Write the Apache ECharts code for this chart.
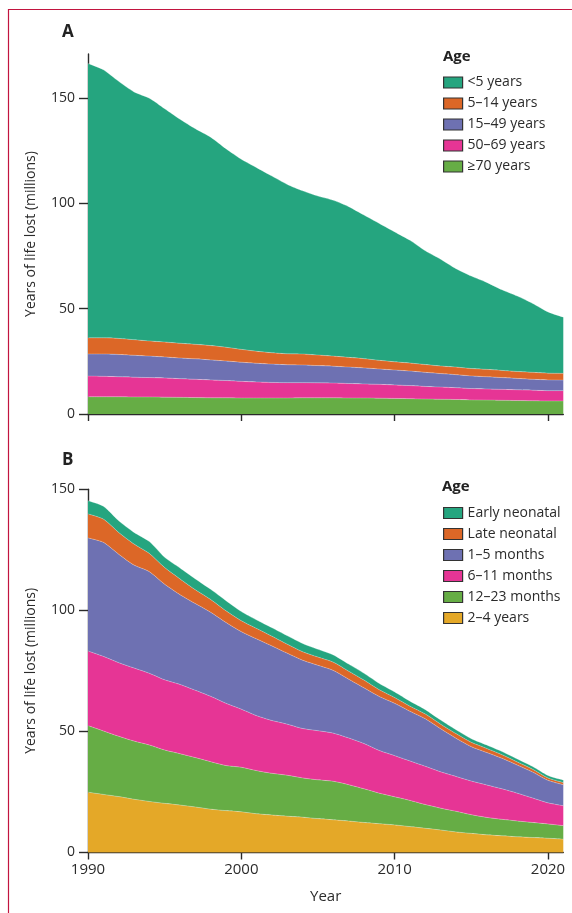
<!DOCTYPE html>
<html>
<head>
<meta charset="utf-8">
<script src="https://cdn.jsdelivr.net/npm/echarts@6/dist/echarts.min.js"></script>
<style>
html,body{margin:0;padding:0;background:#fff;}
#chart{width:572px;height:913px;}
</style>
</head>
<body>
<div id="chart"></div>
<script>
// ---------- data ----------
const years = [1990,1991,1992,1993,1994,1995,1996,1997,1998,1999,2000,2001,2002,2003,2004,2005,2006,2007,2008,2009,2010,2011,2012,2013,2014,2015,2016,2017,2018,2019,2020,2021];

// Panel A (millions)
const aNames = ['<5 years', '5–14 years', '15–49 years', '50–69 years', '≥70 years'];
const aUnder5 = [130.3,127.3,122.1,117.7,115.3,110.8,106.4,102.4,99.0,94.3,90.3,87.2,83.9,80.4,77.5,75.5,74.0,71.6,68.2,65.0,61.7,58.3,54.0,50.7,46.7,43.9,41.3,38.3,35.8,32.7,29.1,26.7];
const a5to14 = [7.7,7.7,7.6,7.4,7.2,7.1,7.0,6.9,6.8,6.5,6.1,5.7,5.4,5.2,5.2,5.0,4.8,4.6,4.4,4.1,3.9,3.8,3.7,3.6,3.6,3.5,3.5,3.4,3.3,3.3,3.2,3.2];
const a15to49 = [10.5,10.6,10.6,10.4,10.2,10.0,9.8,9.7,9.5,9.3,9.1,8.9,8.7,8.5,8.4,8.2,8.0,7.8,7.6,7.3,7.1,6.9,6.7,6.4,6.2,6.0,5.8,5.6,5.4,5.2,5.1,5.0];
const a50to69 = [9.8,9.7,9.5,9.4,9.2,9.1,8.9,8.7,8.5,8.2,7.9,7.6,7.4,7.3,7.2,7.1,7.0,6.9,6.7,6.6,6.4,6.2,6.0,5.8,5.6,5.4,5.3,5.2,5.1,5.0,4.9,4.9];
const a70plus = [8.2,8.2,8.2,8.1,8.1,8.0,7.9,7.8,7.7,7.7,7.6,7.6,7.6,7.6,7.7,7.7,7.7,7.6,7.6,7.5,7.4,7.3,7.1,7.0,6.9,6.7,6.6,6.5,6.4,6.3,6.2,6.2];

// Panel B (millions)
const bNames = ['Early neonatal', 'Late neonatal', '1–5 months', '6–11 months', '12–23 months', '2–4 years'];
const bEarlyNeo = [5.5,5.3,4.8,4.8,4.9,4.2,4.5,4.5,4.2,4.2,3.8,3.5,3.5,3.5,3.4,3.2,3.0,2.9,2.8,2.6,2.3,2.1,1.8,1.7,1.6,1.5,1.4,1.3,1.2,1.1,1.0,1.0];
const bLateNeo = [9.9,9.6,9.0,8.7,7.5,6.9,6.5,5.7,5.3,4.8,4.5,4.3,4.0,3.7,3.5,3.4,3.4,3.3,3.2,2.8,2.4,2.1,2.0,1.9,1.9,1.8,1.7,1.5,1.3,1.2,1.0,0.9];
const b1to5m = [46.7,47.1,44.8,42.5,42.0,39.5,37.1,35.8,34.7,33.4,32.0,31.7,30.8,29.3,28.2,27.0,25.9,24.3,23.0,22.3,21.6,20.5,19.6,17.8,15.8,14.2,13.4,12.6,11.6,10.7,9.3,8.7];
const b6to11m = [30.8,30.8,30.4,30.2,29.6,29.0,28.6,27.8,27.0,25.7,24.0,22.7,21.8,21.1,20.4,20.3,19.9,19.3,18.7,17.6,17.0,16.3,15.8,15.0,14.4,13.9,13.4,12.6,11.5,10.1,8.7,8.2];
const b12to23m = [27.5,26.2,24.9,24.0,23.3,22.0,21.2,20.4,19.6,18.6,18.4,17.8,17.2,16.9,16.2,16.0,15.9,15.0,13.9,12.6,11.6,10.8,9.8,9.0,8.5,7.7,7.2,6.8,6.5,6.2,5.9,5.6];
const b2to4y = [24.9,24.0,23.1,22.0,21.1,20.3,19.6,18.8,17.9,17.3,16.8,16.0,15.5,15.0,14.6,14.0,13.5,13.0,12.4,11.9,11.4,10.7,10.0,9.3,8.5,7.9,7.3,6.9,6.5,6.2,5.9,5.5];

const yTicksA = [0, 50, 100, 150];
const yTicksB = [0, 50, 100, 150];
const xTicks = [1990, 2000, 2010, 2020];

// ---------- styles ----------
const FONT = 'Open Sans';
const TXT = '#2b2b2b';
const AX = '#2a2a2a';
const C = {
  teal: '#25a57f', orange: '#dc6727', purple: '#6e71b2',
  pink: '#e63595', green: '#66ad45', yellow: '#e4a828'
};

function area(name, arr, color, idx, stack) {
  return {
    name: name, type: 'line', stack: stack,
    xAxisIndex: idx, yAxisIndex: idx,
    data: arr, symbol: 'none', smooth: 0.25,
    itemStyle: { color: color },
    lineStyle: { width: 0.6, color: 'rgba(255,255,255,0.45)' },
    areaStyle: { color: color, opacity: 1 },
    emphasis: { disabled: true },
    animation: false
  };
}

function isTickYear(idx, val) { return xTicks.indexOf(Number(val)) >= 0; }

function xAxisCfg(idx, showLabels) {
  return {
    type: 'category', gridIndex: idx, data: years.map(String), boundaryGap: false,
    axisLine: { show: true, onZero: false, lineStyle: { color: AX, width: 1.4 } },
    axisTick: { show: true, length: 7, interval: isTickYear, alignWithLabel: true, lineStyle: { color: AX, width: 1.4 } },
    axisLabel: { show: showLabels, interval: isTickYear, margin: 10, fontSize: 15, color: TXT, fontFamily: FONT },
    splitLine: { show: false },
    name: showLabels ? 'Year' : '', nameLocation: 'middle', nameGap: 37,
    nameTextStyle: { fontSize: 15, color: TXT, fontFamily: FONT, verticalAlign: 'top' }
  };
}

function yAxisCfg(idx, max, ticks) {
  return {
    type: 'value', gridIndex: idx, min: 0, max: max, interval: 50,
    axisLine: { show: true, lineStyle: { color: AX, width: 1.4 } },
    axisTick: { show: true, length: 9, customValues: ticks, lineStyle: { color: AX, width: 1.4 } },
    axisLabel: { customValues: ticks, margin: 13, fontSize: 14, color: TXT, fontFamily: FONT },
    splitLine: { show: false },
    name: 'Years of life lost (millions)', nameLocation: 'middle', nameGap: 50, nameRotate: 90,
    nameTextStyle: { fontSize: 14, color: TXT, fontFamily: FONT }
  };
}

function legendCfg(names, top) {
  return {
    data: names, orient: 'vertical', left: 443, top: top, padding: 0,
    icon: 'rect', itemWidth: 19, itemHeight: 11, itemGap: 7,
    itemStyle: { borderColor: '#333', borderWidth: 1.2 },
    textStyle: { fontSize: 14, color: TXT, fontFamily: FONT },
    selectedMode: false
  };
}

const chart = echarts.init(document.getElementById('chart'), null, { renderer: 'canvas' });
chart.setOption({
  animation: false,
  backgroundColor: '#fff',
  textStyle: { fontFamily: FONT },
  grid: [
    { left: 88, width: 475.3, top: 54, height: 360 },
    { left: 88, width: 475.3, top: 489.3, height: 363.2 }
  ],
  xAxis: [xAxisCfg(0, false), xAxisCfg(1, true)],
  yAxis: [yAxisCfg(0, 171, yTicksA), yAxisCfg(1, 150, yTicksB)],
  legend: [legendCfg(aNames, 75.5), legendCfg(bNames, 506)],
  graphic: [
    { type: 'line', shape: { x1: 8, y1: 9.5, x2: 572, y2: 9.5 }, style: { stroke: '#c2143f', lineWidth: 1.2 }, silent: true },
    { type: 'line', shape: { x1: 8.5, y1: 9, x2: 8.5, y2: 913 }, style: { stroke: '#c2143f', lineWidth: 1.2 }, silent: true },
    { type: 'text', left: 62, top: 24, style: { text: 'A', fontSize: 17, fontWeight: 'bold', fill: '#222', fontFamily: FONT } },
    { type: 'text', left: 62, top: 452, style: { text: 'B', fontSize: 17, fontWeight: 'bold', fill: '#222', fontFamily: FONT } },
    { type: 'text', left: 443, top: 49, style: { text: 'Age', fontSize: 15, fontWeight: 'bold', fill: '#222', fontFamily: FONT } },
    { type: 'text', left: 442, top: 479, style: { text: 'Age', fontSize: 15, fontWeight: 'bold', fill: '#222', fontFamily: FONT } }
  ],
  series: [
    area('≥70 years', a70plus, C.green, 0, 'a'),
    area('50–69 years', a50to69, C.pink, 0, 'a'),
    area('15–49 years', a15to49, C.purple, 0, 'a'),
    area('5–14 years', a5to14, C.orange, 0, 'a'),
    area('<5 years', aUnder5, C.teal, 0, 'a'),
    area('2–4 years', b2to4y, C.yellow, 1, 'b'),
    area('12–23 months', b12to23m, C.green, 1, 'b'),
    area('6–11 months', b6to11m, C.pink, 1, 'b'),
    area('1–5 months', b1to5m, C.purple, 1, 'b'),
    area('Late neonatal', bLateNeo, C.orange, 1, 'b'),
    area('Early neonatal', bEarlyNeo, C.teal, 1, 'b')
  ]
});
</script>
</body>
</html>
